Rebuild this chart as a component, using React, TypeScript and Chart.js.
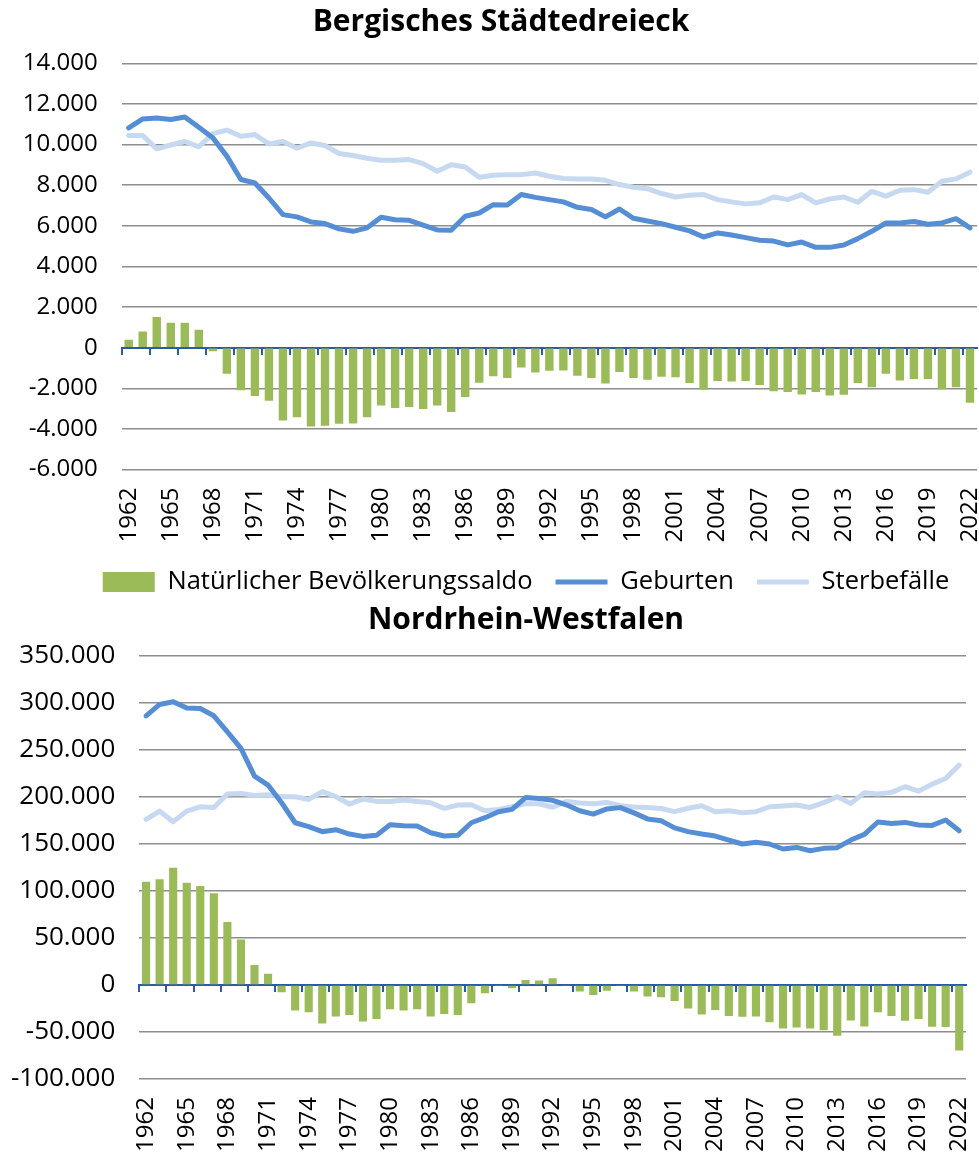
import React, { useEffect, useRef } from 'react';
import { Chart, registerables } from 'chart.js';

Chart.register(...registerables);

const years = [
  '1962', '1963', '1964', '1965', '1966', '1967', '1968', '1969', '1970', '1971',
  '1972', '1973', '1974', '1975', '1976', '1977', '1978', '1979', '1980', '1981',
  '1982', '1983', '1984', '1985', '1986', '1987', '1988', '1989', '1990', '1991',
  '1992', '1993', '1994', '1995', '1996', '1997', '1998', '1999', '2000', '2001',
  '2002', '2003', '2004', '2005', '2006', '2007', '2008', '2009', '2010', '2011',
  '2012', '2013', '2014', '2015', '2016', '2017', '2018', '2019', '2020', '2021',
  '2022',
];

const labelYears = [
  '1962', '1965', '1968', '1971', '1974', '1977', '1980', '1983', '1986', '1989',
  '1992', '1995', '1998', '2001', '2004', '2007', '2010', '2013', '2016', '2019',
  '2022',
];

// Bergisches Städtedreieck
const bsSaldo = [
  390, 800, 1510, 1230, 1230, 890, -180, -1280, -2100, -2380,
  -2610, -3580, -3420, -3880, -3840, -3740, -3730, -3420, -2840, -2970,
  -2920, -3020, -2840, -3170, -2430, -1720, -1400, -1490, -970, -1220,
  -1130, -1120, -1380, -1490, -1760, -1200, -1490, -1580, -1430, -1450,
  -1740, -2070, -1640, -1660, -1640, -1840, -2140, -2180, -2300, -2180,
  -2350, -2320, -1740, -1950, -1280, -1610, -1540, -1540, -2040, -1950,
  -2710,
];
const bsGeburten = [
  10820, 11260, 11310, 11230, 11360, 10850, 10330, 9430, 8280, 8110,
  7370, 6550, 6440, 6190, 6110, 5850, 5730, 5900, 6420, 6300,
  6270, 6030, 5800, 5780, 6470, 6630, 7040, 7030, 7540, 7400,
  7290, 7180, 6910, 6800, 6440, 6830, 6370, 6240, 6110, 5930,
  5750, 5450, 5650, 5550, 5420, 5290, 5250, 5060, 5200, 4940,
  4940, 5060, 5370, 5730, 6140, 6140, 6210, 6080, 6140, 6350,
  5900,
];
const bsSterbe = [
  10440, 10440, 9790, 9980, 10150, 9890, 10540, 10710, 10410, 10490,
  10030, 10150, 9820, 10080, 9950, 9560, 9460, 9330, 9230, 9230,
  9260, 9060, 8690, 9010, 8900, 8390, 8490, 8520, 8520, 8600,
  8440, 8330, 8310, 8310, 8240, 8030, 7900, 7830, 7590, 7420,
  7500, 7540, 7290, 7180, 7080, 7130, 7420, 7290, 7540, 7130,
  7320, 7420, 7160, 7700, 7460, 7750, 7780, 7650, 8190, 8310,
  8640,
];

// Nordrhein-Westfalen
const nrwSaldo = [
  109800, 112300, 124600, 108700, 105200, 97400, 66900, 48200, 21200, 12000,
  -7800, -27300, -29000, -41100, -33600, -31900, -39000, -36100, -25800, -27300,
  -25800, -33600, -30800, -31900, -19500, -8900, -700, -3500, 5300, 4600,
  7100, -600, -6900, -10800, -6200, -600, -7100, -12400, -13100, -17000,
  -25000, -31300, -26600, -33100, -33800, -33600, -39700, -46200, -45300, -46200,
  -48200, -54000, -37900, -44300, -29000, -33100, -38200, -36300, -44400, -44800,
  -69800,
];
const nrwGeburten = [
  286100, 298200, 301000, 294300, 293900, 286100, 269100, 251400, 222000, 212500,
  193700, 172400, 168200, 162900, 165000, 160400, 157900, 159000, 170300, 169300,
  168900, 161800, 158300, 159000, 172400, 177800, 184100, 186600, 199200, 198300,
  196300, 191500, 185200, 181600, 187100, 188500, 182900, 176500, 174600, 167000,
  163000, 160400, 158300, 154000, 149800, 151600, 149800, 144500, 146200, 142700,
  145200, 145900, 154000, 160100, 173200, 171700, 172800, 170000, 169600, 175300,
  163900,
];
const nrwSterbe = [
  176000, 184800, 173500, 184800, 189400, 188700, 202900, 203600, 201500, 202200,
  200100, 200100, 197200, 205400, 200100, 192300, 197600, 195100, 195100, 196500,
  195100, 193700, 187700, 191200, 191600, 185200, 186600, 189400, 192600, 192600,
  188900, 194900, 193300, 192600, 194000, 190500, 189100, 188600, 187500, 184300,
  187800, 190500, 184100, 185200, 183100, 184100, 189400, 190200, 191200, 188700,
  193700, 200100, 193000, 204300, 202900, 204700, 210700, 206100, 213500, 219500,
  233700,
];

const FONT = "'Open Sans', sans-serif";
const GREEN = '#9BBB59';
const BLUE = '#558ED5';
const LIGHT = '#C6D9F1';
const AXIS = '#2A5BA8';
const GRID = '#8E8E8E';
const TEXT = '#000000';

function fmt(v: number): string {
  const s = String(Math.abs(Math.round(v))).replace(/\B(?=(\d{3})+(?!\d))/g, '.');
  return v < 0 ? '-' + s : s;
}

interface Spec {
  title: string;
  saldo: number[];
  geburten: number[];
  sterbe: number[];
  yMin: number;
  yMax: number;
  yStep: number;
  yFont: number;
  padTop: number;
  yWidth: number;
  rightGap: number;
  xHeight: number;
  legend: boolean;
  titlePad: { top: number; bottom: number };
}

function buildConfig(spec: Spec): any {
  return {
    type: 'bar',
    data: {
      labels: years,
      datasets: [
        {
          type: 'bar',
          label: 'Natürlicher Bevölkerungssaldo',
          data: spec.saldo,
          backgroundColor: GREEN,
          borderWidth: 0,
          categoryPercentage: 0.6,
          barPercentage: 1,
          order: 3,
          pointStyle: 'rect',
        },
        {
          type: 'line',
          label: 'Geburten',
          data: spec.geburten,
          borderColor: BLUE,
          backgroundColor: BLUE,
          borderWidth: 5,
          pointRadius: 0,
          tension: 0,
          order: 1,
          pointStyle: 'line',
          borderCapStyle: 'round',
          borderJoinStyle: 'round',
        },
        {
          type: 'line',
          label: 'Sterbefälle',
          data: spec.sterbe,
          borderColor: LIGHT,
          backgroundColor: LIGHT,
          borderWidth: 5,
          pointRadius: 0,
          tension: 0,
          order: 2,
          pointStyle: 'line',
          borderCapStyle: 'round',
          borderJoinStyle: 'round',
        },
      ],
    },
    options: {
      responsive: false,
      animation: false,
      events: [],
      layout: { padding: { left: 0, right: 0, top: spec.padTop, bottom: 0 } },
      plugins: {
        title: {
          display: true,
          text: spec.title,
          color: TEXT,
          font: { family: FONT, size: 30, weight: 'bold', lineHeight: 1 },
          padding: spec.titlePad,
        },
        legend: spec.legend
          ? {
              display: true,
              position: 'top',
              weight: 3000,
              labels: {
                usePointStyle: true,
                pointStyleWidth: 52,
                boxHeight: 20,
                padding: 23,
                color: TEXT,
                font: { family: FONT, size: 25.5 },
                sort: (a: any, b: any) => a.datasetIndex - b.datasetIndex,
              },
            }
          : { display: false },
        tooltip: { enabled: false },
      },
      scales: {
        x: {
          type: 'category',
          position: 'bottom',
          offset: true,
          grid: { display: false, drawTicks: false },
          border: { display: false },
          ticks: {
            autoSkip: false,
            maxRotation: 90,
            minRotation: 90,
            padding: 18,
            color: TEXT,
            font: { family: FONT, size: 24 },
            callback: (_v: any, index: number) => {
              const l = years[index];
              return labelYears.includes(l) ? l : '';
            },
          },
          afterFit: (s: any) => {
            s.height = spec.xHeight;
            s.paddingLeft = 0;
            s.paddingRight = spec.rightGap;
          },
        },
        x0: {
          type: 'category',
          position: { y: 0 },
          offset: true,
          z: 1,
          grid: {
            offset: true,
            drawOnChartArea: false,
            drawTicks: true,
            tickLength: 6,
            lineWidth: 2,
            color: (c: any) =>
              c.index !== undefined && c.index % 2 === 0 ? AXIS : 'rgba(0,0,0,0)',
          },
          border: { display: true, color: AXIS, width: 2 },
          ticks: { display: false, autoSkip: false },
          afterFit: (s: any) => {
            s.paddingLeft = 0;
            s.paddingRight = 0;
          },
        },
        y: {
          type: 'linear',
          min: spec.yMin,
          max: spec.yMax,
          ticks: {
            stepSize: spec.yStep,
            padding: 24,
            color: TEXT,
            font: { family: FONT, size: spec.yFont },
            callback: (v: any) => fmt(Number(v)),
          },
          grid: {
            color: (c: any) => (c.tick && c.tick.value === 0 ? 'rgba(0,0,0,0)' : GRID),
            lineWidth: 1.5,
            drawTicks: false,
          },
          border: { display: false },
          afterFit: (s: any) => {
            s.width = spec.yWidth;
          },
        },
      },
    },
  };
}

const topSpec: Spec = {
  title: 'Bergisches Städtedreieck',
  saldo: bsSaldo,
  geburten: bsGeburten,
  sterbe: bsSterbe,
  yMin: -6000,
  yMax: 14000,
  yStep: 2000,
  yFont: 24,
  padTop: 0,
  yWidth: 121.7,
  rightGap: 25,
  xHeight: 86.4,
  legend: false,
  titlePad: { top: 7, bottom: 26.3 },
};

const bottomSpec: Spec = {
  title: 'Nordrhein-Westfalen',
  saldo: nrwSaldo,
  geburten: nrwGeburten,
  sterbe: nrwSterbe,
  yMin: -100000,
  yMax: 350000,
  yStep: 50000,
  yFont: 26,
  padTop: 26.25,
  yWidth: 139.3,
  rightGap: 86,
  xHeight: 77,
  legend: true,
  titlePad: { top: 0.25, bottom: 20.7 },
};

function ChartCanvas({ spec, top, width, height }: { spec: Spec; top: number; width: number; height: number }) {
  const ref = useRef<HTMLCanvasElement | null>(null);
  useEffect(() => {
    if (!ref.current) return;
    const chart = new Chart(ref.current, buildConfig(spec));
    return () => chart.destroy();
  }, [spec]);
  return (
    <canvas
      ref={ref}
      width={width}
      height={height}
      style={{ position: 'absolute', left: 0, top, width, height, display: 'block' }}
    />
  );
}

export default function App() {
  return (
    <div
      style={{
        position: 'absolute',
        left: 0,
        top: 0,
        width: 979,
        height: 1156,
        background: '#ffffff',
        overflow: 'hidden',
      }}
    >
      <ChartCanvas spec={topSpec} top={0} width={1002} height={556} />
      <ChartCanvas spec={bottomSpec} top={520} width={1052} height={636} />
    </div>
  );
}
